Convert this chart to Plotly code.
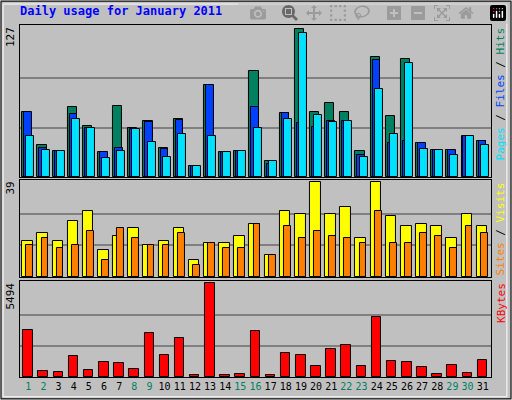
import plotly.graph_objects as go
from plotly.subplots import make_subplots

days = list(range(1, 32))
weekend = [1, 2, 8, 9, 15, 16, 22, 23, 29, 30]
hits = [56, 27, 22, 60, 44, 21, 61, 42, 48, 25, 50, 9, 79, 21, 22, 91, 14, 55, 127, 56, 63, 56, 22, 103, 52, 101, 29, 23, 23, 35, 31]
files = [56, 25, 22, 54, 42, 21, 25, 41, 47, 24, 49, 9, 79, 21, 22, 60, 11, 55, 46, 43, 48, 48, 19, 100, 29, 31, 29, 23, 23, 35, 31]
pages = [35, 23, 22, 50, 42, 16, 22, 41, 30, 17, 37, 9, 35, 21, 22, 42, 14, 50, 123, 53, 47, 48, 17, 75, 37, 98, 24, 23, 19, 35, 27]
visits = [15, 18, 15, 23, 27, 11, 17, 20, 13, 15, 20, 7, 14, 14, 17, 22, 9, 27, 26, 39, 26, 29, 16, 39, 25, 21, 22, 21, 16, 26, 21]
sites = [13, 16, 12, 13, 19, 7, 20, 16, 13, 13, 18, 5, 14, 12, 12, 22, 9, 21, 16, 19, 17, 16, 14, 27, 14, 14, 18, 17, 12, 21, 18]
kbytes = [2777, 362, 302, 1207, 423, 906, 845, 483, 2596, 1268, 2294, 121, 5494, 121, 181, 2717, 121, 1389, 1268, 664, 1630, 1872, 664, 3502, 966, 906, 604, 181, 724, 241, 1026]

C_HITS, C_FILES, C_PAGES = "#008060", "#0040FF", "#00E0FF"
C_VISITS, C_SITES, C_KB = "#FFFF00", "#FF8000", "#FF0000"
GREEN = "#008060"

fig = make_subplots(rows=3, cols=1, shared_xaxes=True)
line = dict(color="black", width=1)


def bar(y, color, off, w, row):
    fig.add_trace(go.Bar(x=days, y=y, marker=dict(color=color, line=line),
                         offset=off, width=w, showlegend=False), row=row, col=1)


bar(hits, C_HITS, -0.4, 0.6, 1)
bar(files, C_FILES, -0.27, 0.5, 1)
bar(pages, C_PAGES, -0.13, 0.53, 1)
bar(visits, C_VISITS, -0.4, 0.7, 2)
bar(sites, C_SITES, -0.13, 0.45, 2)
bar(kbytes, C_KB, -0.33, 0.63, 3)

ticktext = ['<span style="color:%s">%d</span>' % (GREEN if d in weekend else "black", d) for d in days]

doms = [[0.5575, 0.9375], [0.3075, 0.55], [0.0575, 0.2975]]
maxes = [127, 39, 5494]
for i in range(3):
    n = "" if i == 0 else str(i + 1)
    fig.layout["yaxis" + n].update(domain=doms[i], range=[0, maxes[i] * 1.025],
                                   tickvals=[maxes[i] / 3, maxes[i] * 2 / 3], showticklabels=False,
                                   ticks="", gridcolor="#808080", gridwidth=1.5, zeroline=False,
                                   showline=True, linecolor="black", linewidth=1, mirror=True)
    fig.layout["xaxis" + n].update(domain=[0.039, 0.959], range=[0.45, 31.55],
                                   showgrid=False, showline=True, linecolor="black", mirror=True,
                                   ticks="", showticklabels=(i == 2), tickvals=days, ticktext=ticktext,
                                   tickangle=0, automargin=False)

fig.update_xaxes(tickfont=dict(family="DejaVu Sans Mono", size=10, color="black"), row=3, col=1)

ann = [
    dict(x=0.003, y=0.9375, text="127", textangle=-90, xanchor="left", yanchor="top"),
    dict(x=0.003, y=0.55, text="39", textangle=-90, xanchor="left", yanchor="top"),
    dict(x=0.003, y=0.2975, text="5494", textangle=-90, xanchor="left", yanchor="top"),
    dict(x=0.995, y=0.9375, textangle=-90, xanchor="right", yanchor="top",
         text='<span style="color:%s">Pages</span> / <span style="color:%s">Files</span> / <span style="color:%s">Hits</span>' % (C_PAGES, C_FILES, C_HITS)),
    dict(x=0.995, y=0.55, textangle=-90, xanchor="right", yanchor="top",
         text='<span style="color:%s">Sites</span> / <span style="color:%s">Visits</span>' % (C_SITES, C_VISITS)),
    dict(x=0.995, y=0.2975, textangle=-90, xanchor="right", yanchor="top",
         text='<span style="color:%s">KBytes</span>' % C_KB),
]
for a in ann:
    fig.add_annotation(xref="paper", yref="paper", showarrow=False,
                       font=dict(family="DejaVu Sans Mono", size=11, color="black"), **a)

fig.add_annotation(xref="paper", yref="paper", x=0.035, y=0.995, xanchor="left", yanchor="top",
                   showarrow=False, text="<b>Daily usage for January 2011</b>",
                   font=dict(family="DejaVu Sans Mono", size=12, color="#0000FF"))

# beveled frame
fig.add_shape(type="rect", xref="paper", yref="paper", x0=0.002, y0=0.003, x1=0.998, y1=0.997,
              line=dict(color="black", width=1))
fig.add_shape(type="rect", xref="paper", yref="paper", x0=0.006, y0=0.008, x1=0.99, y1=0.99,
              line=dict(color="white", width=1))

fig.update_layout(width=512, height=400, margin=dict(l=0, r=0, t=0, b=0),
                  paper_bgcolor="#C0C0C0", plot_bgcolor="#C0C0C0",
                  barmode="overlay", bargap=0)

fig.write_html("out.html", post_script="document.body.style.margin='0';")
